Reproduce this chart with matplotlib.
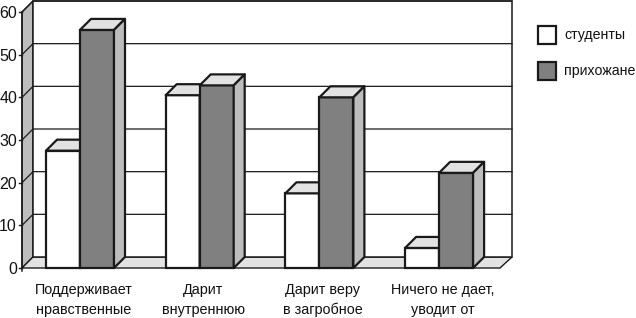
import matplotlib
matplotlib.use('Agg')
import matplotlib.pyplot as plt
from matplotlib.patches import Polygon, Rectangle

plt.rcParams['font.family'] = ['Liberation Sans Narrow', 'Liberation Sans', 'DejaVu Sans']

# данные
categories = ['Поддерживает\nнравственные', 'Дарит\nвнутреннюю', 'Дарит веру\nв загробное', 'Ничего не дает,\nуводит от']
students = [27.5, 40.5, 17.5, 4.7]
parishioners = [55.8, 42.8, 40, 22.3]
series_names = ['студенты', 'прихожане']
yticks = [0, 10, 20, 30, 40, 50, 60]

# x в пикселях, y в единицах шкалы
px_per_unit = 256 / 60
y_base_px = 268
dx = 11
dy = 11 / px_per_unit
bar_w = 34
x_left = 22
x_right = 500
DARK = '#808080'
SIDE = '#bdbdbd'
TOP = '#e2e2e2'
EDGE = '#1a1a1a'

fig = plt.figure(figsize=(6.36, 3.18), dpi=100)
ax = fig.add_axes([0, 0, 1, 1])
ax.set_xlim(0, 636)
ax.set_ylim(-(318 - y_base_px) / px_per_unit, y_base_px / px_per_unit)
ax.axis('off')

# стены и пол
top = yticks[-1]
ax.add_patch(Polygon([(x_left, 0), (x_left + dx, dy), (x_left + dx, top + dy), (x_left, top)],
                     fc=SIDE, ec=EDGE, lw=1, zorder=1))
ax.add_patch(Polygon([(x_left, 0), (x_left + dx, dy), (x_right + dx + 1, dy), (x_right, 0)],
                     fc=TOP, ec=EDGE, lw=1, zorder=1))
ax.add_patch(Rectangle((x_left + dx, dy), x_right + 1 - x_left, top, fc='white', ec=EDGE, lw=1.1, zorder=1))

# линии сетки
for v in yticks:
    if v > 0:
        ax.plot([x_left, x_left + dx, x_right + dx + 1], [v, v + dy, v + dy], color=EDGE, lw=0.9, zorder=2)
    ax.text(17, v - 0.35, str(v), ha='right', va='center', fontsize=11.5, color='#111111')
    ax.plot([x_left - 3, x_left], [v, v], color=EDGE, lw=1, zorder=2)
ax.plot([x_left, x_left], [-0.7, top], color=EDGE, lw=1.1, zorder=2)


def draw_bar(x, v, color, z):
    ax.bar(x, v, width=bar_w, bottom=0, align='edge', color=color, edgecolor=EDGE, linewidth=1.6, zorder=z)
    ax.add_patch(Polygon([(x, v), (x + dx, v + dy), (x + bar_w + dx, v + dy), (x + bar_w, v)],
                         fc=TOP, ec=EDGE, lw=1.6, joinstyle='round', zorder=z))
    ax.add_patch(Polygon([(x + bar_w, 0), (x + bar_w + dx, dy), (x + bar_w + dx, v + dy), (x + bar_w, v)],
                         fc=SIDE, ec=EDGE, lw=1.6, joinstyle='round', zorder=z))


for i, label in enumerate(categories):
    center = 80 + 119.7 * i
    draw_bar(center - bar_w, students[i], 'white', 3 + i * 2)
    draw_bar(center, parishioners[i], DARK, 4 + i * 2)
    line1, line2 = label.split('\n')
    ax.text(center + 3.5, -5.2, line1, ha='center', va='center', fontsize=10.4, color='#111111')
    ax.text(center + 3.5, -9.8, line2, ha='center', va='center', fontsize=10.4, color='#111111')

# легенда
for name, color, y_px in zip(series_names, ['white', DARK], [35, 71]):
    y = (y_base_px - y_px) / px_per_unit
    ax.add_patch(Rectangle((538, y - 9 / px_per_unit), 18, 18 / px_per_unit, fc=color, ec=EDGE, lw=1.6, zorder=3))
    ax.text(564, y, name, ha='left', va='center', fontsize=10.2, color='#111111')

fig.savefig('out.png', dpi=100)
